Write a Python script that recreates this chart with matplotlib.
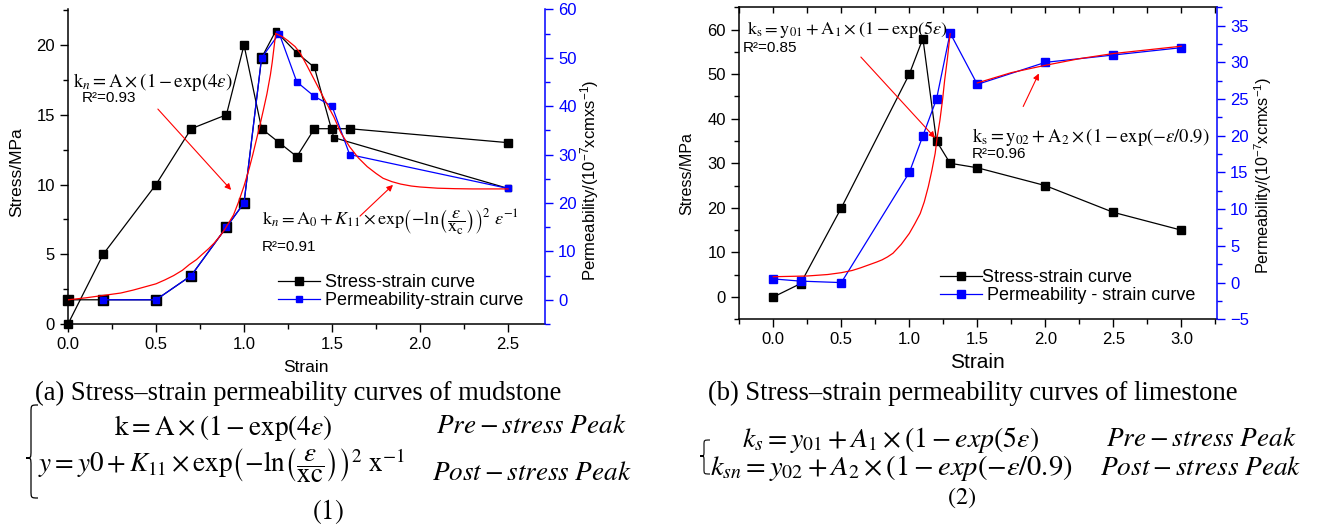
import matplotlib
matplotlib.use('Agg')
import matplotlib.pyplot as plt
from matplotlib.ticker import MultipleLocator, FormatStrFormatter, NullFormatter
from matplotlib.path import Path
from matplotlib.patches import PathPatch

# ---------------- data ----------------
# (a) mudstone
a_strain_stress = [0, 0.2, 0.5, 0.7, 0.9, 1.0, 1.1, 1.2, 1.3, 1.4, 1.5, 1.6, 2.5]
a_stress = [0, 5, 10, 14, 15, 20, 14, 13, 12, 14, 14, 14, 13]
a_strain_perm = [0.2, 0.5, 0.7, 0.9, 1.0, 1.1, 1.2, 1.3, 1.4, 1.5, 1.6, 2.5]
a_perm = [0, 0, 5, 15, 20, 50, 55, 45, 42, 40, 30, 23]
a_strain_perm2 = [0, 0.2, 0.5, 0.7, 0.9, 1.0, 1.1, 1.18, 1.3, 1.4, 1.51, 2.5]
a_perm2 = [0, 0, 0, 5, 15, 20, 50, 55.5, 51, 48, 33.5, 23]
a_fit_pre_x = [0, 0.1, 0.2, 0.3, 0.37, 0.45, 0.5, 0.55, 0.6, 0.65, 0.69, 0.73, 0.76, 0.8, 0.83,
               0.86, 0.89, 0.92, 0.94, 0.97, 1.0, 1.03, 1.05, 1.07, 1.09, 1.11, 1.13, 1.15, 1.16, 1.18]
a_fit_pre_y = [0, 0.4, 0.9, 1.4, 2.0, 2.8, 3.3, 4.1, 5.0, 6.1, 7.3, 8.3, 9.3, 10.6, 11.7,
               13.0, 14.5, 16.3, 17.5, 20.3, 23.5, 27.2, 30, 33, 36, 39.2, 42.5, 46.5, 49, 55]
a_fit_post_x = [1.18, 1.22, 1.25, 1.29, 1.32, 1.36, 1.41, 1.46, 1.51, 1.55, 1.60, 1.65, 1.70,
                1.75, 1.79, 1.84, 1.89, 1.95, 2.0, 2.1, 2.2, 2.3, 2.4, 2.5]
a_fit_post_y = [55, 54.3, 53.5, 52.3, 50.9, 48.2, 44.7, 41.2, 37.8, 34.5, 31.6, 29.3, 27.5,
                26.1, 25.1, 24.4, 23.9, 23.5, 23.3, 23.05, 22.95, 22.9, 22.9, 22.9]

# (b) limestone
b_strain = [0, 0.2, 0.5, 1.0, 1.1, 1.2, 1.3, 1.5, 2.0, 2.5, 3.0]
b_stress = [0, 3, 20, 50, 58, 35, 30, 29, 25, 19, 15]
b_perm = [0.5, 0.2, 0, 15, 20, 25, 34, 27, 30, 31, 32]
b_fit_pre_x = [0, 0.25, 0.4, 0.5, 0.58, 0.64, 0.7, 0.76, 0.8, 0.84, 0.88, 0.94, 1.0, 1.04,
               1.08, 1.11, 1.14, 1.165, 1.19, 1.205, 1.225, 1.245, 1.26, 1.28, 1.3]
b_fit_pre_y = [0.8, 0.9, 1.1, 1.35, 1.65, 2.0, 2.4, 2.8, 3.1, 3.5, 4.0, 5.2, 6.7, 8.0,
               9.4, 11.0, 13.1, 15.2, 17.6, 19.8, 22.1, 25.0, 27.6, 30.5, 33.9]
b_fit_post_x = [1.5, 1.75, 2.0, 2.25, 2.5, 2.75, 3.0]
b_fit_post_y = [27.2, 28.6, 29.6, 30.5, 31.2, 31.7, 32.2]

legend_a = ['Stress-strain curve', 'Permeability-strain curve']
legend_b = ['Stress-strain curve', ' Permeability - strain curve']

# ---------------- style ----------------
plt.rcParams['font.family'] = ['Liberation Sans', 'DejaVu Sans']
plt.rcParams['mathtext.fontset'] = 'custom'
plt.rcParams['mathtext.rm'] = 'Liberation Sans'
plt.rcParams['mathtext.it'] = 'Liberation Sans:italic'
plt.rcParams['mathtext.bf'] = 'Liberation Sans:bold'

BLUE = '#0000ff'
W, H = 1322, 530
fig = plt.figure(figsize=(W / 100, H / 100), dpi=100)
renderer = fig.canvas.get_renderer()


def fx(px):
    return px / W


def fy(py):
    return 1 - py / H


def fit_text(x0, x1, yc, s, size0=12, **kw):
    t = fig.text(fx(x0), fy(yc), s, ha='left', va='center', fontsize=size0, **kw)
    bb = t.get_window_extent(renderer)
    t.set_fontsize(size0 * (x1 - x0) / bb.width)
    return t


def arrow(x0, y0, x1, y1):
    fig.add_artist(matplotlib.patches.FancyArrowPatch(
        (fx(x0), fy(y0)), (fx(x1), fy(y1)), transform=fig.transFigure,
        arrowstyle='-|>', mutation_scale=9, color='red', lw=0.8))


def brace(xl, xm, xr, yt, ym, yb, lw=0.9):
    d = min(8, (ym - yt) * 0.3)
    pts = [(xr, yt), (xm, yt), (xm, yt), (xm, yt + d),
           (xm, ym - d),
           (xm, ym), (xm, ym), (xl, ym),
           (xm, ym), (xm, ym), (xm, ym + d),
           (xm, yb - d),
           (xm, yb), (xm, yb), (xr, yb)]
    codes = [Path.MOVETO, Path.CURVE4, Path.CURVE4, Path.CURVE4,
             Path.LINETO,
             Path.CURVE4, Path.CURVE4, Path.CURVE4,
             Path.CURVE4, Path.CURVE4, Path.CURVE4,
             Path.LINETO,
             Path.CURVE4, Path.CURVE4, Path.CURVE4]
    path = Path([(fx(x), fy(y)) for x, y in pts], codes)
    fig.add_artist(PathPatch(path, transform=fig.transFigure, fill=False, lw=lw, color='black'))


def setup(ax, ax2, xlim, ylim, ylim2, ymaj, ymin, y2maj, y2min, top_frame):
    ax.set_xlim(*xlim)
    ax.set_ylim(*ylim)
    ax2.set_ylim(*ylim2)
    ax.xaxis.set_major_locator(MultipleLocator(0.5))
    ax.xaxis.set_minor_locator(MultipleLocator(0.25))
    ax.xaxis.set_major_formatter(FormatStrFormatter('%.1f'))
    ax.yaxis.set_major_locator(MultipleLocator(ymaj))
    ax.yaxis.set_minor_locator(MultipleLocator(ymin))
    ax2.yaxis.set_major_locator(MultipleLocator(y2maj))
    ax2.yaxis.set_minor_locator(MultipleLocator(y2min))
    for s in ['right', 'top']:
        ax.spines[s].set_visible(False)
    for s in ['left', 'bottom', 'top']:
        ax2.spines[s].set_visible(False)
    ax2.spines['right'].set_color(BLUE)
    for sp in [ax.spines['left'], ax.spines['bottom'], ax2.spines['right']]:
        sp.set_linewidth(1.1)
    ax.tick_params(which='both', direction='out', right=False, top=False, labelsize=12, width=1)
    ax.tick_params(which='major', length=6)
    ax.tick_params(which='minor', length=3.5)
    ax2.tick_params(which='both', direction='out', colors=BLUE, labelsize=12, width=1)
    ax2.tick_params(which='major', length=6)
    ax2.tick_params(which='minor', length=3.5)
    if top_frame:
        sec = ax.secondary_xaxis('top')
        sec.xaxis.set_major_locator(MultipleLocator(0.5))
        sec.xaxis.set_minor_locator(MultipleLocator(0.25))
        sec.xaxis.set_major_formatter(NullFormatter())
        sec.tick_params(which='both', direction='in', length=4, width=1)
        sec.spines['top'].set_linewidth(1.1)


# ---------------- panel (a) ----------------
axa = fig.add_axes([fx(68), fy(324), (545 - 68) / W, (324 - 9.3) / H])
axa2 = axa.twinx()
setup(axa, axa2, (0, 2.71), (0, 22.56), (-5, 60), 5, 2.5, 10, 5, False)

ha1, = axa.plot(a_strain_stress, a_stress, '-s', color='black', lw=0.9, ms=5.5, clip_on=False, zorder=3)
axa2.plot(a_strain_perm2, a_perm2, '-', color='black', lw=0.9, zorder=2)
axa2.plot(a_strain_perm2[:7], a_perm2[:7], 's', color='black', ms=6.5, zorder=2, clip_on=False)
axa2.plot(a_strain_perm2[7:], a_perm2[7:], 's', color='black', ms=4, zorder=2)
ha2, = axa2.plot(a_strain_perm, a_perm, '-s', color=BLUE, lw=0.9, ms=5, zorder=3)
axa2.plot(a_fit_pre_x, a_fit_pre_y, '-', color='red', lw=0.9, zorder=4)
axa2.plot(a_fit_post_x, a_fit_post_y, '-', color='red', lw=0.9, zorder=4)

fig.legend([ha1, ha2], legend_a, loc='upper left', bbox_to_anchor=(fx(278), fy(274)),
           frameon=False, borderpad=0, borderaxespad=0, handlelength=2.3,
           handletextpad=0.3, labelspacing=0.05, fontsize=13)

# ---------------- panel (b) ----------------
axb = fig.add_axes([fx(739.3), fy(319.3), (1216.7 - 739.3) / W, (319.3 - 7.3) / H])
axb2 = axb.twinx()
setup(axb, axb2, (-0.25, 3.26), (-5, 65), (-5, 37.5), 10, 5, 5, 2.5, True)

hb1, = axb.plot(b_strain, b_stress, '-s', color='black', lw=0.9, ms=5.5, zorder=3)
hb2, = axb2.plot(b_strain, b_perm, '-s', color=BLUE, lw=0.9, ms=5.5, zorder=3)
axb2.plot(b_fit_pre_x, b_fit_pre_y, '-', color='red', lw=0.9, zorder=4)
axb2.plot(b_fit_post_x, b_fit_post_y, '-', color='red', lw=0.9, zorder=4)

fig.legend([hb1, hb2], legend_b, loc='upper left', bbox_to_anchor=(fx(940), fy(269)),
           frameon=False, borderpad=0, borderaxespad=0, handlelength=2.3,
           handletextpad=0.0, labelspacing=0.05, fontsize=13)

# ---------------- axis labels ----------------
fig.text(fx(17), fy(172), 'Stress/MPa', rotation=90, ha='center', va='center', fontsize=12.5)
fig.text(fx(687), fy(174), 'Stress/MPa', rotation=90, ha='center', va='center', fontsize=11.5)
fig.text(fx(590), fy(180), r'Permeability/(10$^{-7}$xcmxs$^{-1}$)', rotation=90,
         ha='center', va='center', fontsize=12)
fig.text(fx(1263), fy(175), r'Permeability/(10$^{-7}$xcmxs$^{-1}$)', rotation=90,
         ha='center', va='center', fontsize=11.7)
fig.text(fx(306), fy(367), 'Strain', ha='center', va='center', fontsize=12.5)
fig.text(fx(977), fy(362), 'Strain', ha='center', va='center', fontsize=15)

# ---------------- annotations in the plots ----------------
M = dict(math_fontfamily='stix')
fit_text(73, 233, 82, r'$\mathrm{k}_n = \mathrm{A} \times (1 - \mathrm{exp}(4\varepsilon)$', **M)
fig.text(fx(82), fy(98), 'R²=0.93', ha='left', va='center', fontsize=11)
fit_text(262, 518, 222, r'$\mathrm{k}_n = \mathrm{A}_0 + K_{11} \times \mathrm{exp}\left(-\mathrm{ln}\left(\dfrac{\varepsilon}{\mathrm{x}_{\mathrm{c}}}\right)\right)^2\ \varepsilon^{-1}$', **M)
fig.text(fx(262), fy(247), 'R²=0.91', ha='left', va='center', fontsize=11)
fit_text(747, 948, 30, r'$\mathrm{k}_\mathrm{s} = \mathrm{y}_{01} + \mathrm{A}_1 \times (1 - \mathrm{exp}(5\varepsilon)$', **M)
fig.text(fx(743), fy(48), 'R²=0.85', ha='left', va='center', fontsize=11)
fit_text(972, 1210, 137, r'$\mathrm{k}_\mathrm{s} = \mathrm{y}_{02} + \mathrm{A}_2 \times (1 - \mathrm{exp}(-\varepsilon/0.9)$', **M)
fig.text(fx(972), fy(154), 'R²=0.96', ha='left', va='center', fontsize=11)

arrow(156, 107, 233, 192)
arrow(358, 218, 395, 183)
arrow(859, 55, 937, 140)
arrow(1022, 109, 1040, 71)

# ---------------- captions and equations ----------------
S = dict(family=['Liberation Serif', 'DejaVu Serif'])
fit_text(35, 562, 393, '(a) Stress–strain permeability curves of mudstone', **S)
fit_text(708, 1237, 393, '(b) Stress–strain permeability curves of limestone', **S)

fit_text(114, 333, 428, r'$\mathrm{k} = \mathrm{A} \times (1 - \mathrm{exp}(4\varepsilon)$', **M)
fit_text(436, 627, 426, r'$Pre - stress\ Peak$', **M)
fit_text(38, 405, 466, r'$y = y0 + K_{11} \times \mathrm{exp}\left(-\mathrm{ln}\left(\dfrac{\varepsilon}{\mathrm{xc}}\right)\right)^2\ \mathrm{x}^{-1}$', **M)
fit_text(432, 632, 473, r'$Post - stress\ Peak$', **M)
fit_text(312, 345, 512, r'$\mathrm{(1)}$', **M)
brace(26, 31, 38, 405, 458, 498)

fit_text(742, 1040, 440, r'$k_s = y_{01} + A_1 \times (1 - exp(5\varepsilon)$', **M)
fit_text(1106, 1297, 439, r'$Pre - stress\ Peak$', **M)
fit_text(710, 1073, 468, r'$k_{sn} = y_{02} + A_2 \times (1 - exp(-\varepsilon/0.9)$', **M)
fit_text(1100, 1302, 468, r'$Post - stress\ Peak$', **M)
fit_text(947, 977, 498, r'$\mathrm{(2)}$', **M)
brace(700, 704, 710, 440, 456, 474, lw=0.8)

fig.savefig('out.png', dpi=100)
